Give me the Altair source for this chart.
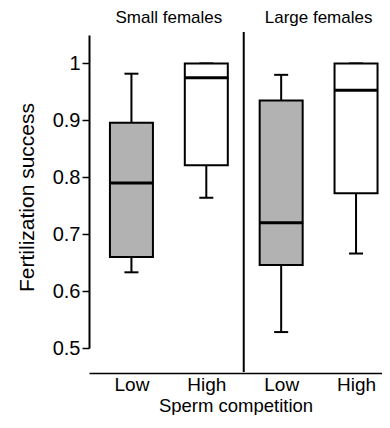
import altair as alt
import pandas as pd

groups = ["Small females", "Small females", "Large females", "Large females"]
competition = ["Low", "High", "Low", "High"]
whisker_low = [0.633, 0.764, 0.528, 0.666]
q1 = [0.660, 0.821, 0.646, 0.772]
median = [0.790, 0.975, 0.720, 0.953]
q3 = [0.896, 1.000, 0.935, 1.000]
whisker_high = [0.982, 1.000, 0.980, 1.000]
headers = ["Small females", "Large females"]
y_ticks = [0.5, 0.6, 0.7, 0.8, 0.9, 1.0]

df = pd.DataFrame({
    "group": groups,
    "competition": competition,
    "wlow": whisker_low,
    "q1": q1,
    "median": median,
    "q3": q3,
    "whigh": whisker_high,
    "pos": [i + 0.5 for i in range(len(groups))],
})
hdr = pd.DataFrame({"header": headers, "pos": [2 * i + 1 for i in range(len(headers))]})
div = pd.DataFrame({"pos": [len(groups) / 2]})

FONT = "Liberation Sans"
xscale = alt.Scale(domain=[0, 3.78], nice=False, zero=False)
yscale = alt.Scale(domain=[0.5, 1.05], nice=False, zero=False)

label_list = "[" + ",".join("'" + c + "'" for c in competition) + "]"
x_axis = alt.Axis(
    values=[i + 0.5 for i in range(len(groups))],
    labelExpr=label_list + "[floor(datum.value)]",
    ticks=False, tickSize=0, grid=False,
    domainColor="black", domainWidth=1.5,
    labelFontSize=19, labelFont=FONT, labelColor="black", labelPadding=2,
    offset=25,
    title="Sperm competition", titleFontSize=18.5, titleFont=FONT,
    titleFontWeight="normal", titleColor="black",
    titleBaseline="alphabetic", titleY=38,
)
y_axis = alt.Axis(
    values=y_ticks, format=".1~f", grid=False,
    domainColor="black", domainWidth=2,
    tickColor="black", tickWidth=1.5, tickSize=7,
    labelFontSize=20, labelFont=FONT, labelColor="black", labelPadding=2,
    title="Fertilization success", titleFontSize=21, titleFont=FONT,
    titleFontWeight="normal", titleColor="black",
    titleAngle=270, titleAlign="center", titleBaseline="alphabetic",
    titleX=-56, titleY=162,
)

base = alt.Chart(df)
X = alt.X("pos:Q", scale=xscale, axis=x_axis)
color = alt.Color("competition:N",
                  scale=alt.Scale(domain=["Low", "High"], range=["#b2b2b2", "#ffffff"]),
                  legend=None)

whisk = base.mark_rule(color="black", strokeWidth=2, opacity=1).encode(
    x=X, y=alt.Y("wlow:Q", scale=yscale, axis=y_axis), y2="whigh:Q")
cap_lo = base.mark_tick(orient="horizontal", color="black", size=14, thickness=2,
                        opacity=1).encode(x="pos:Q", y="wlow:Q")
cap_hi = base.mark_tick(orient="horizontal", color="black", size=14, thickness=2,
                        opacity=1).encode(x="pos:Q", y="whigh:Q")
box = base.mark_bar(size=43, stroke="black", strokeWidth=2, opacity=1).encode(
    x="pos:Q", y="q1:Q", y2="q3:Q", color=color)
med = base.mark_tick(orient="horizontal", color="black", size=44, thickness=3,
                     opacity=1).encode(x="pos:Q", y="median:Q")

divider = alt.Chart(div).mark_rule(color="black", strokeWidth=2, clip=False).encode(
    x="pos:Q", y=alt.value(-3), y2=alt.value(337))
head = alt.Chart(hdr).mark_text(font=FONT, fontSize=17, baseline="alphabetic",
                                align="center", color="black").encode(
    x="pos:Q", y=alt.value(-12), text="header:N")

chart = alt.layer(whisk, cap_lo, cap_hi, box, med, divider, head).properties(
    width=293, height=313,
    padding={"left": 81, "top": 27, "right": 0, "bottom": 67},
    autosize=alt.AutoSizeParams(type="none"),
).configure_view(stroke=None)

chart.save("out.html", embed_options={"renderer": "svg", "actions": False})
